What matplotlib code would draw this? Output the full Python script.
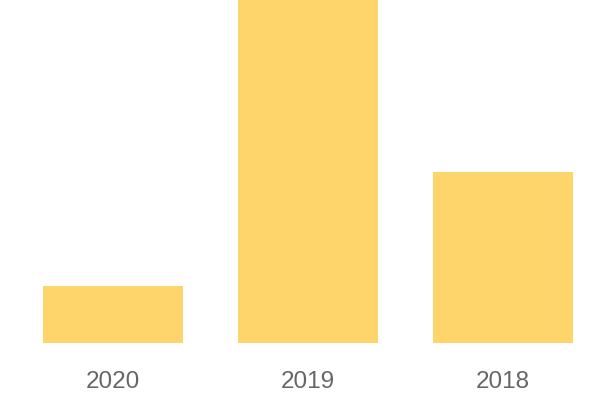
import matplotlib
matplotlib.use("Agg")
import matplotlib.pyplot as plt

categories = ["2020", "2019", "2018"]
values = [1, 6, 3]

fig = plt.figure(figsize=(6, 4), dpi=100)
ax = fig.add_axes([0, 57/400, 1, 343/400])
x = list(range(len(categories)))
ax.bar(x, values, width=140/195, color="#FDD56A")
left = -113/195
ax.set_xlim(left, left + 600/195)
ax.set_ylim(0, 6)
ax.set_xticks(x)
ax.set_xticklabels(categories, fontsize=17.5, color="#666666", family=["Liberation Sans", "DejaVu Sans"])
ax.tick_params(axis="x", length=0, pad=20)
ax.set_yticks([])
for s in ax.spines.values():
    s.set_visible(False)
fig.savefig("out.png", dpi=100)
